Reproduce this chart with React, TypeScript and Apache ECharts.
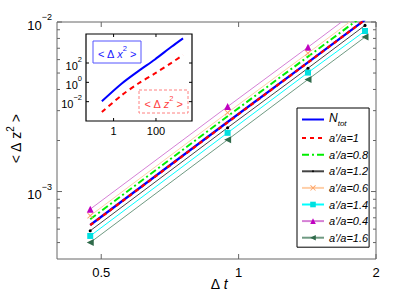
import React, { useEffect, useRef } from "react";
import * as echarts from "echarts";

// ---- main chart data ----
const dt = [0.473, 0.946, 1.419, 1.892];
const nTot = [6.35e-4, 2.57e-3, 5.78e-3, 1.03e-2];
const r10 = [6.33e-4, 2.56e-3, 5.77e-3, 1.03e-2];
const r08 = [6.87e-4, 2.78e-3, 6.25e-3, 1.11e-2];
const r12 = [5.87e-4, 2.38e-3, 5.34e-3, 9.55e-3];
const r06 = [7.2e-4, 2.92e-3, 6.55e-3, 1.17e-2];
const r14 = [5.47e-4, 2.22e-3, 5.03e-3, 8.85e-3];
const r04 = [7.87e-4, 3.17e-3, 7.1e-3, 1.27e-2];
const r16 = [5.0e-4, 2.02e-3, 4.58e-3, 8.15e-3];

const legendNames = ["N_tot", "a'/a=1", "a'/a=0.8", "a'/a=1.2", "a'/a=0.6", "a'/a=1.4", "a'/a=0.4", "a'/a=1.6"];
const noMarkerNames = ["N_tot", "a'/a=1", "a'/a=0.8"];

// ticks main
const xTicksMain = [0.5, 1, 2];
const yMajorMain = [1e-3, 1e-2];
const yMinorMain = [5e-4, 6e-4, 7e-4, 8e-4, 9e-4, 2e-3, 3e-3, 4e-3, 5e-3, 6e-3, 7e-3, 8e-3, 9e-3];

// ---- inset data ----
const insetT = [0.28, 2.44, 14.7, 89, 537, 1890];
const dx2 = [0.011, 0.76, 14.5, 234, 4790, 35500];
const dz2 = [8.5e-4, 0.047, 0.76, 8.3, 105, 661];
const xTicksInset = [1, 100];
const yTicksInset = [1e-2, 1, 1e2];

const FONT = "'Liberation Sans', Arial, Helvetica, sans-serif";

const pair = (xs: number[], ys: number[]) => xs.map((x, i) => [x, ys[i]]);

function tickSeries(xi: number, yi: number, xT: number[], yT: { v: number; l: number }[], xLen: number, xRef: number, yRef: number, color: string) {
  const data: number[][] = [];
  yT.forEach((t) => data.push([xRef, t.v, 0, t.l]));
  xT.forEach((v) => data.push([v, yRef, 1, xLen]));
  return {
    type: "custom",
    xAxisIndex: xi,
    yAxisIndex: yi,
    silent: true,
    clip: false,
    z: 6,
    encode: { x: 0, y: 1 },
    data,
    renderItem: (params: any, api: any) => {
      const cs = params.coordSys;
      const kind = api.value(2);
      const len = api.value(3);
      const st = { stroke: color, lineWidth: 1 };
      if (kind === 0) {
        const y = api.coord([xRef, api.value(1)])[1];
        return {
          type: "group",
          children: [
            { type: "line", shape: { x1: cs.x, y1: y, x2: cs.x + len, y2: y }, style: st },
            { type: "line", shape: { x1: cs.x + cs.width, y1: y, x2: cs.x + cs.width - len, y2: y }, style: st },
          ],
        };
      }
      const x = api.coord([api.value(0), yRef])[0];
      return {
        type: "group",
        children: [
          { type: "line", shape: { x1: x, y1: cs.y + cs.height, x2: x, y2: cs.y + cs.height - len }, style: st },
          { type: "line", shape: { x1: x, y1: cs.y, x2: x, y2: cs.y + len }, style: st },
        ],
      };
    },
  };
}

const isPow = (v: number, base: number) => {
  const e = Math.log(v) / Math.log(base);
  return Math.abs(e - Math.round(e)) < 1e-6;
};

const supText = (color: string, bs: number, ss: number, pad: number, italic: boolean) => ({
  t: { fontSize: bs, lineHeight: bs, verticalAlign: "bottom", fill: color, color, fontFamily: FONT },
  i: { fontSize: bs, lineHeight: bs, verticalAlign: "bottom", fontStyle: italic ? "italic" : "normal", fill: color, color, fontFamily: FONT },
  s: { fontSize: ss, verticalAlign: "top", padding: [0, 0, pad, 0], fill: color, color, fontFamily: FONT },
});

// small dot inside a larger (empty) box so that it stays small in the legend too
const DOT = "path://M0,0M10,10M3.3,5A1.7,1.7,0,1,0,6.7,5A1.7,1.7,0,1,0,3.3,5Z";

export default function App() {
  const ref = useRef<HTMLDivElement>(null);
  useEffect(() => {
    if (!ref.current) return;
    const chart = echarts.init(ref.current, undefined, { renderer: "svg" });

    const powLabel = (v: number, allowed?: number[]) => {
      if (!isPow(v, 10)) return "";
      const e = Math.round(Math.log10(v));
      if (allowed && allowed.indexOf(e) < 0) return "";
      const es = e < 0 ? "\u2212" + Math.abs(e) : String(e);
      return `{t|10}{s|${es}}`;
    };

    const lineS = (name: string, ys: number[], opts: any) => ({
      type: "line",
      name,
      xAxisIndex: 0,
      yAxisIndex: 0,
      data: pair(dt, ys),
      clip: true,
      ...opts,
    });

    const option: any = {
      animation: false,
      textStyle: { fontFamily: FONT },
      grid: [
        { left: 57, top: 22, right: 39, bottom: 36, show: true, borderColor: "#666", borderWidth: 1, backgroundColor: "#fff", z: 0 },
        { left: 86, top: 34, width: 106, height: 87, show: true, borderColor: "#000", borderWidth: 1.2, backgroundColor: "#fff", z: 1 },
      ],
      xAxis: [
        {
          type: "log", logBase: 2, gridIndex: 0, min: 0.4, max: 2,
          axisLine: { show: false }, axisTick: { show: false }, splitLine: { show: false },
          axisLabel: {
            fontSize: 13, color: "#000", margin: 7, fontFamily: FONT,
            formatter: (v: number) => (isPow(v, 2) && v >= 0.5 ? String(+v.toPrecision(6)) : ""),
          },
        },
        {
          type: "log", logBase: 10, gridIndex: 1, min: 0.05, max: 5000,
          axisLine: { show: false }, axisTick: { show: false }, splitLine: { show: false },
          axisLabel: {
            fontSize: 11, color: "#000", margin: 4, fontFamily: FONT,
            formatter: (v: number) => {
              if (!isPow(v, 10)) return "";
              const e = Math.round(Math.log10(v));
              return e === 0 ? "1" : e === 2 ? "100" : "";
            },
          },
        },
      ],
      yAxis: [
        {
          type: "log", logBase: 10, gridIndex: 0, min: 4e-4, max: 1e-2,
          axisLine: { show: false }, axisTick: { show: false }, splitLine: { show: false },
          axisLabel: { margin: 5, formatter: (v: number) => powLabel(v), rich: supText("#000", 13, 9, 10, false) },
        },
        {
          type: "log", logBase: 10, gridIndex: 1, min: 1e-4, max: 1e5,
          axisLabel: { margin: 4, formatter: (v: number) => powLabel(v, [-2, 0, 2]), rich: supText("#000", 11, 7.5, 8, false) },
          axisLine: { show: false }, axisTick: { show: false }, splitLine: { show: false },
        },
      ],
      legend: {
        data: legendNames.map((n) => (noMarkerNames.indexOf(n) >= 0 ? { name: n, itemStyle: { opacity: 0 } } : { name: n })),
        orient: "vertical",
        left: 297,
        top: 108,
        itemWidth: 22,
        itemHeight: 7,
        itemGap: 5.6,
        padding: [4, 1, 4, 4],
        borderColor: "#000",
        borderWidth: 1,
        borderRadius: 0,
        backgroundColor: "#fff",
        z: 10,
        selectedMode: false,
        textStyle: {
          fontSize: 11, fontStyle: "italic", color: "#000", fontFamily: FONT,
          rich: {
            n: { fontSize: 12, lineHeight: 12, verticalAlign: "top", fontStyle: "italic", fontFamily: FONT, color: "#000" },
            u: { fontSize: 8, verticalAlign: "bottom", padding: [7, 0, 0, 0], fontStyle: "italic", fontFamily: FONT, color: "#000" },
          },
        },
        formatter: (name: string) => (name === "N_tot" ? "{n|N}{u|tot}" : name),
      },
      series: [
        lineS("a'/a=0.4", r04, {
          symbol: "triangle", symbolSize: 7,
          itemStyle: { color: "#c000c0" }, lineStyle: { color: "#d580d5", width: 1 },
        }),
        lineS("a'/a=0.6", r06, {
          symbol: "path://M0,1L1,0L5,4L9,0L10,1L6,5L10,9L9,10L5,6L1,10L0,9L4,5Z", symbolSize: 6,
          itemStyle: { color: "#ffa060" }, lineStyle: { color: "#ffcfa8", width: 1 },
        }),
        lineS("a'/a=1.6", r16, {
          symbol: "triangle", symbolRotate: 90, symbolSize: 7,
          itemStyle: { color: "#2f6a4a" }, lineStyle: { color: "#6f9a82", width: 1 },
        }),
        lineS("a'/a=1.4", r14, {
          symbol: "rect", symbolSize: 6,
          itemStyle: { color: "#00e0e0" }, lineStyle: { color: "#00ffff", width: 1 },
        }),
        lineS("a'/a=1.2", r12, {
          symbol: DOT, symbolSize: 9,
          itemStyle: { color: "#000" }, lineStyle: { color: "#444", width: 1 },
        }),
        lineS("N_tot", nTot, {
          symbol: "none", itemStyle: { color: "#0000ff" }, lineStyle: { color: "#0000ff", width: 2.3 },
        }),
        lineS("a'/a=1", r10, {
          symbol: "none", itemStyle: { color: "#ff0000" }, lineStyle: { color: "#ff0000", width: 2.3, type: [4, 4] },
        }),
        lineS("a'/a=0.8", r08, {
          symbol: "none", itemStyle: { color: "#00ee00" }, lineStyle: { color: "#00ee00", width: 2, type: [7, 3, 2, 3] },
        }),
        {
          type: "line", name: "dx2", xAxisIndex: 1, yAxisIndex: 1, data: pair(insetT, dx2),
          symbol: "none", smooth: 0.3, z: 4, lineStyle: { color: "#0000ff", width: 2 },
        },
        {
          type: "line", name: "dz2", xAxisIndex: 1, yAxisIndex: 1, data: pair(insetT, dz2),
          symbol: "none", smooth: 0.3, z: 4, lineStyle: { color: "#ff0000", width: 2, type: [5, 4] },
        },
        tickSeries(0, 0, xTicksMain,
          [...yMajorMain.map((v) => ({ v, l: 5 })), ...yMinorMain.map((v) => ({ v, l: 3 }))],
          5, 1, 1e-3, "#666"),
        tickSeries(1, 1, xTicksInset, yTicksInset.map((v) => ({ v, l: 3 })), 3, 1, 1, "#000"),
      ],
      graphic: [
        { type: "rect", z: 20, shape: { x: 93, y: 41, width: 48, height: 22 }, style: { fill: "#fff", stroke: "#5555ff", lineWidth: 1 } },
        {
          type: "text", z: 21, x: 117, y: 52,
          style: {
            text: "{t|< \u0394 }{i|x}{s|2}{t| >}", align: "center", verticalAlign: "middle",
            rich: supText("#2020ff", 11, 7.5, 7, true),
          },
        },
        { type: "rect", z: 20, shape: { x: 139, y: 90, width: 49, height: 23 }, style: { fill: "#fff", stroke: "#ff8080", lineWidth: 1, lineDash: [3, 2] } },
        {
          type: "text", z: 21, x: 163.5, y: 101.5,
          style: {
            text: "{t|< \u0394 }{i|z}{s|2}{t| >}", align: "center", verticalAlign: "middle",
            rich: supText("#ff4040", 11, 7.5, 7, true),
          },
        },
        {
          type: "text", x: 14, y: 139, rotation: Math.PI / 2, z: 20,
          style: {
            text: "{t|< \u0394 }{i|z}{s|2}{t| >}", align: "center", verticalAlign: "middle",
            rich: supText("#000", 14, 10, 8, false),
          },
        },
        {
          type: "text", x: 219, y: 284, z: 20,
          style: {
            text: "{t|\u0394 }{i|t}", align: "center", verticalAlign: "middle",
            rich: {
              t: { fontSize: 14, fill: "#000", fontFamily: FONT },
              i: { fontSize: 14, fontStyle: "italic", fill: "#000", fontFamily: FONT },
            },
          },
        },
      ],
    };
    chart.setOption(option);
    return () => chart.dispose();
  }, []);
  return <div ref={ref} style={{ position: "absolute", left: 0, top: 0, width: 415, height: 295 }} />;
}
